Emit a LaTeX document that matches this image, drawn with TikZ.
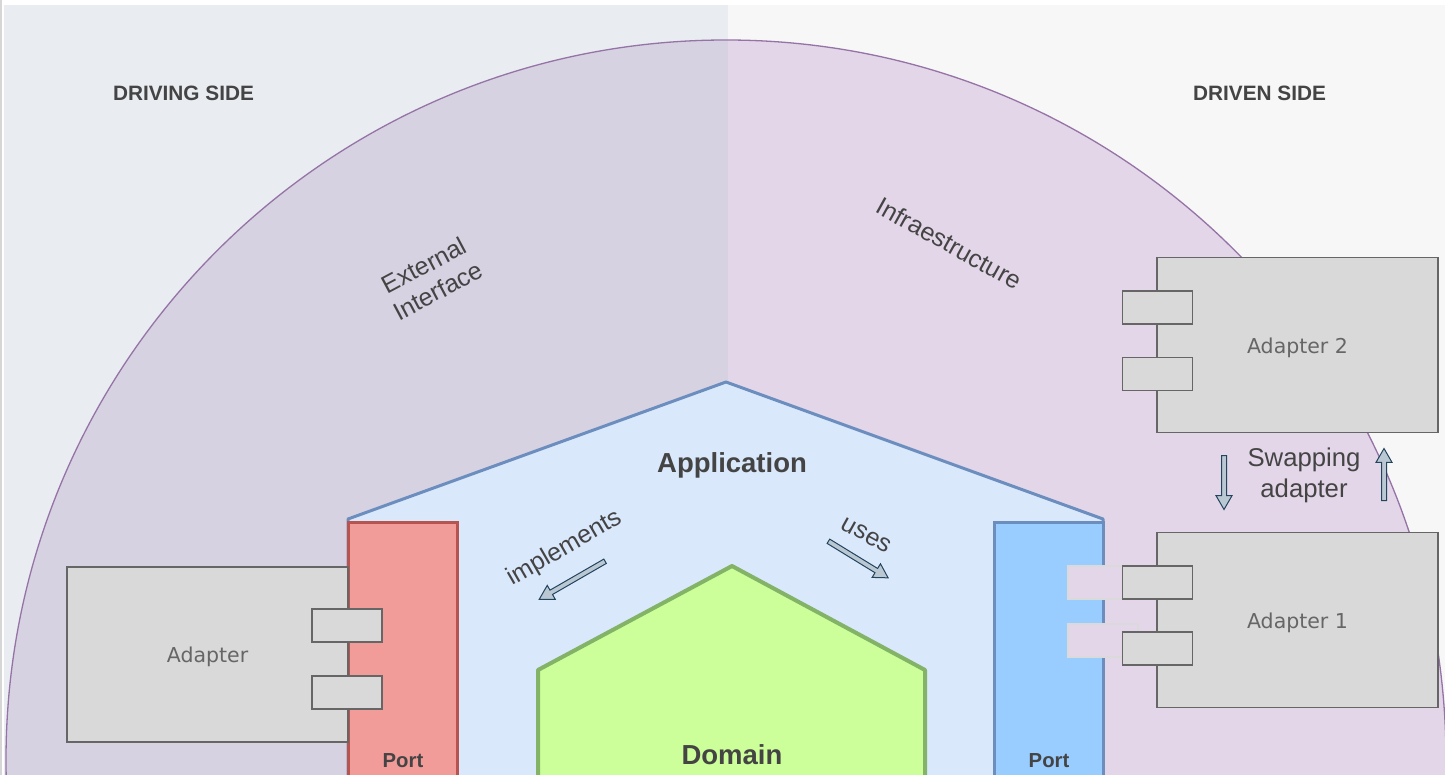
\documentclass[tikz,border=0pt]{standalone}
\usepackage{fontspec}
\setmainfont{Liberation Sans}
\newfontfamily\adapterfont{DejaVu Sans}
\usetikzlibrary{shapes.arrows}
\definecolor{drivingbg}{HTML}{E9ECF1}
\definecolor{drivenbg}{HTML}{F7F7F7}
\definecolor{framegray}{HTML}{D6D6D6}
\definecolor{hexleft}{HTML}{D7D2E2}
\definecolor{hexright}{HTML}{E2D6E8}
\definecolor{hexline}{HTML}{9673A6}
\definecolor{appfill}{HTML}{DAE8FC}
\definecolor{appline}{HTML}{6C8EBF}
\definecolor{domainfill}{HTML}{CCFF99}
\definecolor{domainline}{HTML}{82B366}
\definecolor{portinfill}{HTML}{F19C99}
\definecolor{portinline}{HTML}{B85450}
\definecolor{portoutfill}{HTML}{99CCFF}
\definecolor{adaptergray}{HTML}{D9D9D9}
\definecolor{adapterline}{HTML}{666666}
\definecolor{ghostline}{HTML}{DADADA}
\definecolor{arrowfill}{HTML}{BAC8D3}
\definecolor{arrowline}{HTML}{23445D}
\definecolor{textdark}{HTML}{444444}
\tikzset{
  adapterbox/.style={draw=adapterline, fill=adaptergray, line width=1.3pt,
    minimum width=281pt, minimum height=175pt, text height=16pt, text depth=0pt,
    font=\adapterfont\fontsize{20.5}{24}\selectfont, text=adapterline},
  tab/.style={draw=adapterline, fill=adaptergray, line width=1.3pt,
    minimum width=70pt, minimum height=33pt, inner sep=0pt},
  ghosttab/.style={tab, draw=ghostline, fill=hexright, line width=2pt},
  blockarrow/.style={single arrow, draw=arrowline, fill=arrowfill, line width=1pt,
    inner sep=2pt, single arrow head extend=5.5pt, single arrow tip angle=60,
    minimum height=#1},
  sidelabel/.style={font=\bfseries\fontsize{20.8}{24}\selectfont, text=textdark, inner sep=0pt},
  biglabel/.style={font=\bfseries\fontsize{27.5}{32}\selectfont, text=textdark, inner sep=0pt},
  portlabel/.style={font=\bfseries\fontsize{20.3}{24}\selectfont, text=textdark, inner sep=0pt},
  flowlabel/.style={font=\fontsize{25}{29}\selectfont, text=textdark, inner sep=0pt}
}
\begin{document}
\begin{tikzpicture}[x=1pt,y=-1pt]
  \clip (0,0) rectangle (1445,775);
  \fill[white] (0,0) rectangle (1445,775);
  \fill[drivingbg] (4,5) rectangle (728,775);
  \fill[drivenbg] (728,5) rectangle (1445,775);
  \draw[framegray, line width=2pt] (1,0) -- (1,775);
  \begin{scope}
    \clip (4,5) rectangle (728,775);
    \fill[hexleft] (726,760) circle[radius=720pt];
  \end{scope}
  \begin{scope}
    \clip (728,5) rectangle (1445,775);
    \fill[hexright] (726,760) circle[radius=720pt];
  \end{scope}
  \draw[hexline, line width=1.3pt] (726,760) circle[radius=720pt];

  \draw[appline, fill=appfill, line width=3pt, line join=round]
    (348,519) -- (726,382) -- (1103,519) -- (1103,800) -- (348,800) -- cycle;
  \draw[portinline, fill=portinfill, line width=3pt] (348,522) rectangle (457,800);
  \draw[appline, fill=portoutfill, line width=3pt] (994,522) rectangle (1103,800);
  \draw[domainline, fill=domainfill, line width=4pt, line join=round]
    (538,670) -- (732,566) -- (925,670) -- (925,800) -- (538,800) -- cycle;

  \node[adapterbox] (adapter) at (207.5,654.5) {Adapter};
  \node[tab] (adaptertab1) at (347,625.5) {};
  \node[tab] (adaptertab2) at (347,692.5) {};

  \node[adapterbox] (adapter2) at (1297.5,345) {Adapter 2};
  \node[tab] (adapter2tab1) at (1157.5,307.5) {};
  \node[tab] (adapter2tab2) at (1157.5,374) {};

  \node[ghosttab] (ghosttab1) at (1103,582) {};
  \node[ghosttab] (ghosttab2) at (1103,640) {};
  \node[adapterbox] (adapter1) at (1297.5,620) {Adapter 1};
  \node[tab] (adapter1tab1) at (1157.5,582.5) {};
  \node[tab] (adapter1tab2) at (1157.5,648.5) {};

  \node[sidelabel, anchor=base] (driving) at (183.5,101) {DRIVING SIDE};
  \node[sidelabel, anchor=base] (driven) at (1259.5,101) {DRIVEN SIDE};
  \node[biglabel, anchor=base] (application) at (732,472) {Application};
  \node[biglabel, anchor=base] (domain) at (732,764) {Domain};
  \node[portlabel, anchor=base] (portin) at (403,767) {Port};
  \node[portlabel, anchor=base] (portout) at (1049,767) {Port};

  \node[flowlabel, rotate=28, align=center] (external) at (431,278) {External\\Interface};
  \node[flowlabel, rotate=-29, anchor=base] (infra) at (945,251) {Infraestructure};
  \node[flowlabel, rotate=30, anchor=base] (implements) at (568,554) {implements};
  \node[flowlabel, rotate=-29, anchor=base] (uses) at (863,541) {uses};
  \node[flowlabel, align=center, font=\fontsize{25.7}{30.6}\selectfont] (swapping) at (1304,475.5) {Swapping\\adapter};

  \node[blockarrow=76pt, rotate=210, anchor=tail] (implarrow) at (605.5,561) {};
  \node[blockarrow=70pt, rotate=-31.5, anchor=tail] (usesarrow) at (828,541) {};
  \node[blockarrow=54pt, rotate=-90, anchor=tail] (swapdown) at (1224,455) {};
  \node[blockarrow=52pt, rotate=90, anchor=tail] (swapup) at (1384,501) {};
\end{tikzpicture}
\end{document}
